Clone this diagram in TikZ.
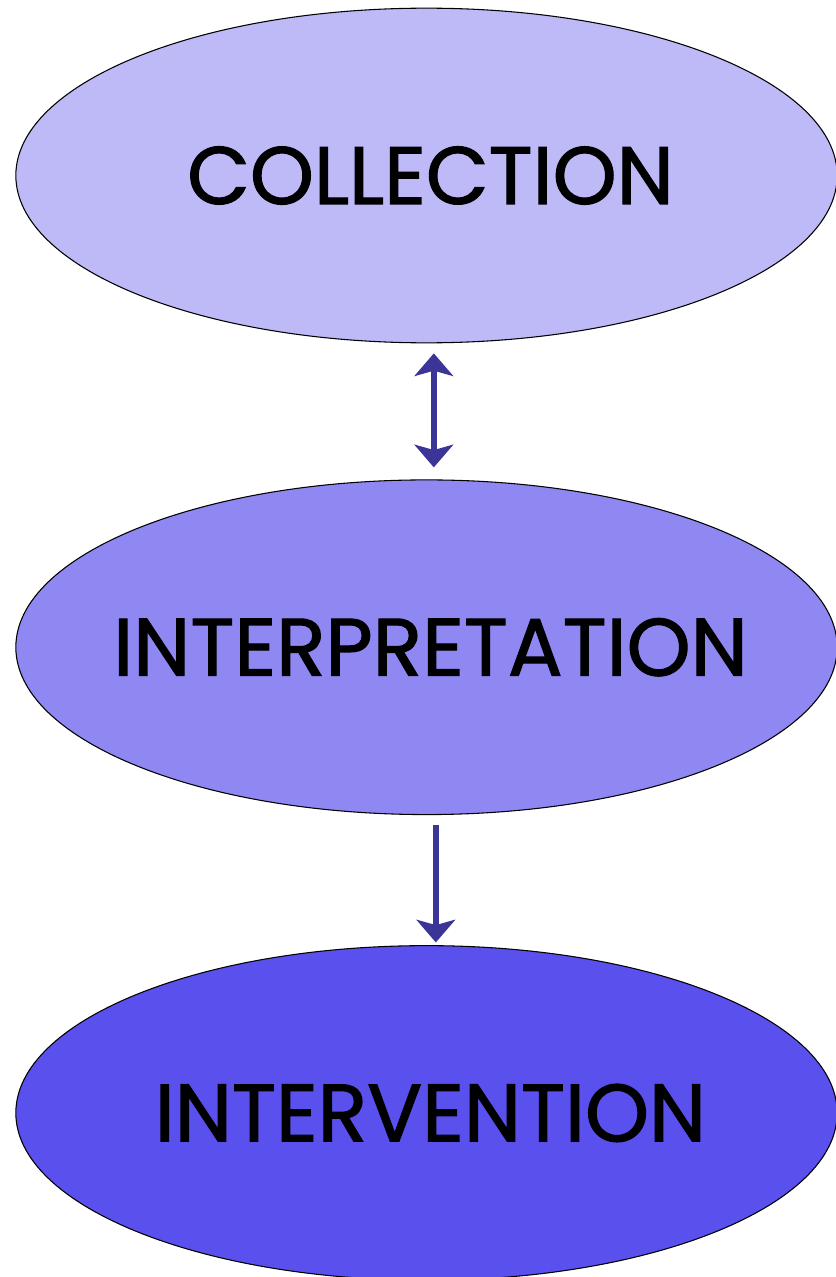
\documentclass[tikz,border=0pt]{standalone}
\usepackage{fontspec}
\setmainfont{Poppins}[FakeBold=1.5]
\usetikzlibrary{arrows.meta,positioning,shapes.geometric}
\definecolor{lilac}{RGB}{190,186,248}
\definecolor{lavender}{RGB}{144,136,242}
\definecolor{violetblue}{RGB}{90,80,238}
\definecolor{arrowblue}{RGB}{58,53,151}
\newcommand{\stagetext}[1]{\makebox[0pt]{\kern6pt#1}}

\begin{document}
\begin{tikzpicture}[x=0.75pt, y=0.75pt,
  node distance=102pt,
  every node/.style={font=\fontsize{61}{66}\selectfont},
  stage/.style={ellipse, draw, line width=0.8pt, minimum width=616pt, minimum height=251pt, inner sep=0pt},
  arr/.style={{Stealth[length=17pt, width=29pt, inset=4pt]}-{Stealth[length=17pt, width=29pt, inset=4pt]}, line width=4.5pt, arrowblue},
  oneway/.style={-{Stealth[length=17pt, width=29pt, inset=4pt]}, line width=4.5pt, arrowblue}]
\useasboundingbox (0,0) rectangle (835,-1277);
\node[stage, fill=lilac] (coll) at (426.5,-175.5) {\stagetext{COLLECTION}};
\node[stage, fill=lavender, below=of coll] (interp) {\stagetext{INTERPRETATION}};
\node[stage, fill=violetblue, below=97.5pt of interp] (interv) {\stagetext{INTERVENTION}};
\draw[arr, transform canvas={xshift=5.5pt}, shorten <=7.5pt, shorten >=9pt] (coll) -- (interp);
\draw[oneway, transform canvas={xshift=7pt}, shorten <=7.5pt, shorten >=2pt] (interp) -- (interv);
\end{tikzpicture}
\end{document}
